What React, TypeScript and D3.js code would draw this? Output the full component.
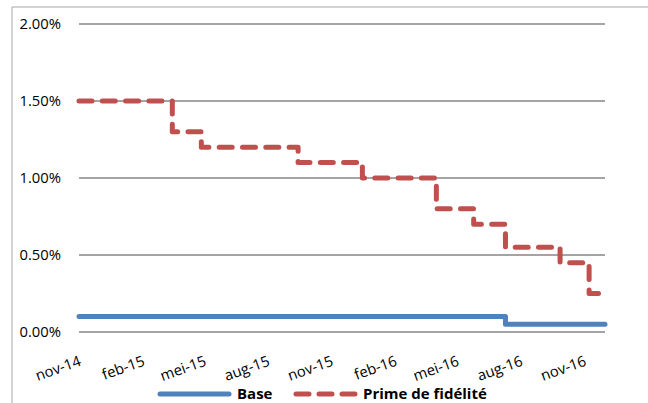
import React from "react";
import * as d3 from "d3";

const primeDates = ["2014-11-01", "2015-03-16", "2015-04-27", "2015-09-14", "2015-12-16", "2016-04-01", "2016-05-25", "2016-07-10", "2016-09-27", "2016-11-08", "2016-12-01"];
const primeValues = [1.5, 1.3, 1.2, 1.1, 1.0, 0.8, 0.7, 0.55, 0.45, 0.25, 0.25];
const baseDates = ["2014-11-01", "2016-07-10", "2016-12-01"];
const baseValues = [0.1, 0.05, 0.05];
const yTicks = [0, 0.5, 1.0, 1.5, 2.0];
const xTickDates = ["2014-11-01", "2015-02-01", "2015-05-01", "2015-08-01", "2015-11-01", "2016-02-01", "2016-05-01", "2016-08-01", "2016-11-01"];
const xTickLabels = ["nov-14", "feb-15", "mei-15", "aug-15", "nov-15", "feb-16", "mei-16", "aug-16", "nov-16"];
const seriesNames = ["Base", "Prime de fidélité"];

const W = 648;
const H = 403;
const FONT = "'Open Sans', 'Liberation Sans', sans-serif";

export default function App() {
  const parse = d3.utcParse("%Y-%m-%d");
  const x = d3
    .scaleUtc()
    .domain([parse("2014-11-01")!, parse("2016-12-01")!])
    .range([79, 605]);
  const y = d3.scaleLinear().domain([0, 2]).range([332, 24]);

  const line = d3
    .line<[Date, number]>()
    .x((d) => x(d[0]))
    .y((d) => y(d[1]))
    .curve(d3.curveStepAfter);

  const prime: [Date, number][] = primeDates.map((d, i) => [parse(d)!, primeValues[i]]);
  const base: [Date, number][] = baseDates.map((d, i) => [parse(d)!, baseValues[i]]);
  const fmt = d3.format(".2%");

  return (
    <div style={{ position: "fixed", left: 0, top: 0, width: W, height: H, background: "#fff" }}>
      <svg width={W} height={H} style={{ display: "block" }} fontFamily={FONT}>
        <rect x={0} y={0} width={W} height={H} fill="#fff" />
        {/* chart border */}
        <path d={`M12,${H + 2} L12,7 L${W + 2},7`} fill="none" stroke="#a6a6a6" strokeWidth={1} />
        {/* gridlines */}
        {yTicks.map((t) => (
          <line key={t} x1={79} x2={605} y1={y(t)} y2={y(t)} stroke="#868686" strokeWidth={1.5} />
        ))}
        {yTicks.map((t) => (
          <text key={"l" + t} x={61} y={y(t) + 5} textAnchor="end" fontSize={14.8} fill="#000">
            {fmt(t / 100)}
          </text>
        ))}
        {xTickDates.map((d, i) => {
          const px = x(parse(d)!);
          return (
            <text
              key={d}
              transform={`translate(${px + 3},${365}) rotate(-20)`}
              textAnchor="end"
              fontSize={14.8}
              fill="#000"
            >
              {xTickLabels[i]}
            </text>
          );
        })}
        <path d={line(base)!} fill="none" stroke="#4F81BD" strokeWidth={5} strokeLinejoin="round" strokeLinecap="round" />
        <path
          d={line(prime)!}
          fill="none"
          stroke="#C0504D"
          strokeWidth={5}
          strokeLinejoin="round"
          strokeLinecap="round"
          strokeDasharray="13,10.3"
        />
        {/* legend */}
        <line x1={160} x2={229} y1={394} y2={394} stroke="#4F81BD" strokeWidth={5} strokeLinecap="round" />
        <text x={237} y={398.5} fontSize={15} fontWeight="bold" fill="#000">
          {seriesNames[0]}
        </text>
        <line x1={296} x2={355} y1={394} y2={394} stroke="#C0504D" strokeWidth={5} strokeLinecap="round" strokeDasharray="13,10" />
        <text x={363} y={398.5} fontSize={15} fontWeight="bold" fill="#000">
          {seriesNames[1]}
        </text>
      </svg>
    </div>
  );
}
